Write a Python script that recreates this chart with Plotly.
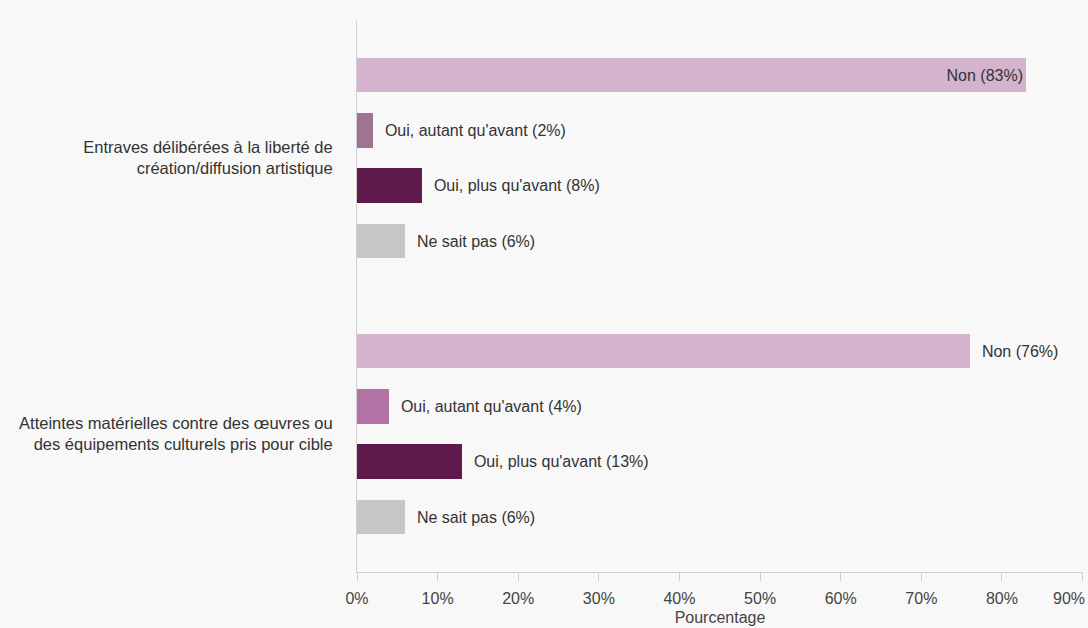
import plotly.graph_objects as go

# Survey results: two kinds of attacks, four answers each (percent of respondents)
groups = [
    "Entraves délibérées à la liberté de<br>création/diffusion artistique",
    "Atteintes matérielles contre des œuvres ou<br>des équipements culturels pris pour cible",
]
answers = ["Non", "Oui, autant qu'avant", "Oui, plus qu'avant", "Ne sait pas"]
values_entraves = [83, 2, 8, 6]
values_atteintes = [76, 4, 13, 6]
x_ticks = list(range(0, 91, 10))
x_tick_labels = [f"{v}%" for v in x_ticks]

# Bar colours per answer, one entry per group
colors = {
    "Non": ["#d3b3cd", "#d3b3cd"],
    "Oui, autant qu'avant": ["#9d7492", "#b272a6"],
    "Oui, plus qu'avant": ["#5f1a4b", "#5f1a4b"],
    "Ne sait pas": ["#c6c6c6", "#c6c6c6"],
}
# Long bars carry their label inside
label_pos = {
    "Non": ["inside", "outside"],
    "Oui, autant qu'avant": ["outside", "outside"],
    "Oui, plus qu'avant": ["outside", "outside"],
    "Ne sait pas": ["outside", "outside"],
}

FONT = "Liberation Sans, Arial, sans-serif"
series = [values_entraves, values_atteintes]
slot = 5  # rows per group (4 bars + spacer)

fig = go.Figure()
for r, ans in enumerate(answers):
    vals = [series[g][r] for g in range(len(groups))]
    ypos = [g * slot + r + 1 for g in range(len(groups))]
    fig.add_trace(go.Bar(
        x=vals,
        y=ypos,
        orientation="h",
        width=0.62,
        marker=dict(color=colors[ans], line=dict(width=0)),
        text=[f"  {ans} ({v}%)" if p == "outside" else f"{ans} ({v}%)"
              for v, p in zip(vals, label_pos[ans])],
        textposition=label_pos[ans],
        insidetextanchor="end",
        textfont=dict(family=FONT, size=16, color="#333333"),
        cliponaxis=False,
        showlegend=False,
        name=ans,
    ))

# The last tick label sits flush with the right edge of the page
fig.add_annotation(
    text=x_tick_labels[-1],
    xref="paper", yref="paper",
    x=1, y=0,
    xanchor="right", yanchor="top",
    xshift=4, yshift=-16,
    showarrow=False,
    font=dict(family=FONT, size=16, color="#444444"),
)

fig.update_layout(
    width=1088,
    height=628,
    margin=dict(l=357, r=5, t=20, b=56),
    paper_bgcolor="#f8f8f8",
    plot_bgcolor="#f8f8f8",
    font=dict(family=FONT, size=16, color="#444444"),
    bargap=0,
)
fig.update_xaxes(
    range=[0, 90.05],
    tickvals=x_ticks,
    ticktext=x_tick_labels[:-1] + [""],
    showgrid=False,
    zeroline=False,
    showline=True,
    linecolor="#d0d0d0",
    linewidth=1,
    ticks="outside",
    ticklen=8,
    tickcolor="#d0d0d0",
    ticklabelstandoff=4,
    tickfont=dict(size=16, color="#444444"),
    title=dict(text="Pourcentage", font=dict(size=16, color="#444444"), standoff=5),
)
fig.update_yaxes(
    range=[10, 0],
    tickvals=[g * slot + 2.5 for g in range(len(groups))],
    ticktext=groups,
    showgrid=False,
    zeroline=False,
    showline=True,
    linecolor="#d0d0d0",
    linewidth=1,
    ticks="",
    ticklabelstandoff=20,
    tickfont=dict(size=16.5, color="#333333"),
)

fig.write_html("out.html")
